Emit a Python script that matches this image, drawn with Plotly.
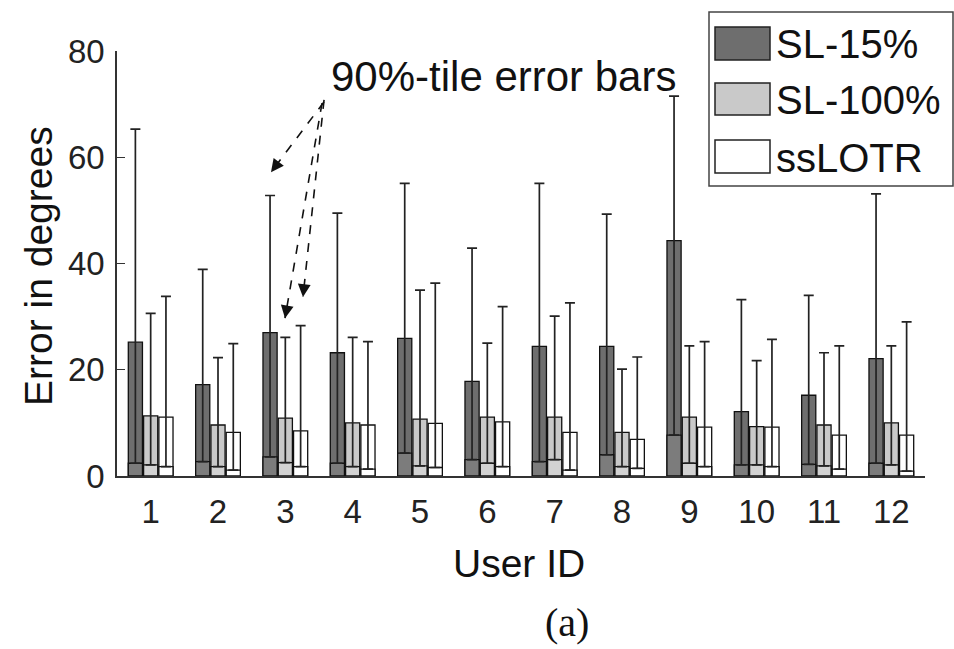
import plotly.graph_objects as go

users = list(range(1, 13))
tick_labels = [str(u) for u in users]
series_names = ["SL-15%", "SL-100%", "ssLOTR"]

sl15_mean = [25.2, 17.2, 27.0, 23.2, 25.9, 17.8, 24.4, 24.4, 44.3, 12.1, 15.2, 22.1]
sl15_low = [2.4, 2.7, 3.6, 2.4, 4.3, 3.1, 2.7, 4.0, 7.7, 2.1, 2.2, 2.4]
sl15_p90 = [65.3, 38.9, 52.8, 49.5, 55.1, 42.9, 55.1, 49.3, 71.5, 33.2, 34.0, 53.1]

sl100_mean = [11.3, 9.6, 10.9, 10.0, 10.7, 11.1, 11.1, 8.2, 11.1, 9.3, 9.6, 10.0]
sl100_low = [2.1, 1.75, 2.5, 1.75, 1.9, 2.4, 3.1, 1.75, 2.4, 2.1, 1.9, 2.1]
sl100_p90 = [30.6, 22.3, 26.1, 26.1, 35.0, 25.0, 30.1, 20.1, 24.5, 21.7, 23.2, 24.5]

ss_mean = [11.1, 8.2, 8.5, 9.6, 9.9, 10.2, 8.2, 6.9, 9.2, 9.2, 7.7, 7.7]
ss_low = [1.75, 1.1, 1.75, 1.3, 1.6, 1.75, 1.1, 1.45, 1.75, 1.75, 1.3, 0.9]
ss_p90 = [33.8, 24.9, 28.3, 25.3, 36.3, 31.9, 32.6, 22.4, 25.3, 25.7, 24.5, 29.0]

means = [sl15_mean, sl100_mean, ss_mean]
lows = [sl15_low, sl100_low, ss_low]
p90s = [sl15_p90, sl100_p90, ss_p90]

outer_colors = ["#6e6e6e", "#c9c9c9", "#ffffff"]
inner_colors = ["#7c7c7c", "#d2d2d2", "#ffffff"]
offsets = [-0.227, 0.0, 0.227]
bar_w = 0.21
FONT = "Liberation Sans, Arial, sans-serif"

fig = go.Figure()
for i in range(3):
    xs = [u + offsets[i] for u in users]
    fig.add_trace(go.Bar(x=xs, y=means[i], width=bar_w, name=series_names[i],
                         marker=dict(color=outer_colors[i], line=dict(color="#111", width=1.3)),
                         showlegend=False))
    fig.add_trace(go.Bar(x=xs, y=lows[i], width=bar_w, name=series_names[i] + " low",
                         marker=dict(color=inner_colors[i], line=dict(color="#111", width=1.3)),
                         showlegend=False))
for i in range(3):
    xs = [u + offsets[i] for u in users]
    fig.add_trace(go.Scatter(
        x=xs, y=lows[i], mode="markers", marker=dict(size=0.1, color="rgba(0,0,0,0)"),
        error_y=dict(type="data", symmetric=False,
                     array=[p - l for p, l in zip(p90s[i], lows[i])],
                     arrayminus=[0] * len(users), color="#222", thickness=1.7, width=5),
        showlegend=False, hoverinfo="skip"))

# plot area mapping helpers (paper coords)
L, R, T, B = 117, 925, 51, 476
def px(xp):
    return (xp - L) / (R - L)
def py(yp):
    return (B - yp) / (B - T)

shapes = []
annotations = []

# dashed arrows (data coordinates)
arrow_lines = [((3.574, 70.4), (2.787, 57.2), (8.5, -11.2)),
               ((3.545, 70.2), (2.995, 29.7), (2.4, -13.8)),
               ((3.575, 70.8), (3.262, 33.7), (1.4, -13.9))]
for (x0, y0), (x1, y1), (ax, ay) in arrow_lines:
    shapes.append(dict(type="line", xref="x", yref="y", x0=x0, y0=y0, x1=x1, y1=y1,
                       line=dict(color="#111", width=1.6, dash="dash")))
    annotations.append(dict(x=x1, y=y1, xref="x", yref="y", ax=ax, ay=ay, text="",
                            showarrow=True, arrowhead=2, arrowsize=1.6, arrowwidth=1.6,
                            arrowcolor="#111", standoff=0))

annotations.append(dict(text="90%-tile error bars", xref="paper", yref="paper",
                        x=px(503), y=py(76), showarrow=False,
                        font=dict(family=FONT, size=42, color="#111"),
                        xanchor="center", yanchor="middle"))

# custom legend
shapes.append(dict(type="rect", xref="paper", yref="paper", x0=px(709), x1=px(953),
                   y0=py(186), y1=py(12), fillcolor="white",
                   line=dict(color="#444", width=1.5), layer="above"))
sw_rows = [(27, 60), (83, 115), (140, 173)]
for i, (a, b) in enumerate(sw_rows):
    shapes.append(dict(type="rect", xref="paper", yref="paper", x0=px(715), x1=px(770),
                       y0=py(b), y1=py(a), fillcolor=outer_colors[i],
                       line=dict(color="#222", width=1.5), layer="above"))
    annotations.append(dict(text=series_names[i], xref="paper", yref="paper",
                            x=px(774), y=py((a + b) / 2 + 1), showarrow=False,
                            xanchor="left", yanchor="middle",
                            font=dict(family=FONT, size=40, color="#111")))

annotations.append(dict(text="User ID", xref="paper", yref="paper", x=px(519), y=py(563),
                        showarrow=False, xanchor="center", yanchor="middle",
                        font=dict(family=FONT, size=39, color="#111")))
annotations.append(dict(text="Error in degrees", xref="paper", yref="paper", x=px(38), y=py(266),
                        showarrow=False, xanchor="center", yanchor="middle", textangle=-90,
                        font=dict(family=FONT, size=39, color="#111")))
annotations.append(dict(text="(a)", xref="paper", yref="paper", x=px(567), y=py(622),
                        showarrow=False, xanchor="center", yanchor="middle",
                        font=dict(family="Liberation Serif, Times New Roman, serif", size=40, color="#111")))

fig.update_layout(
    width=954, height=649,
    margin=dict(l=L, r=954 - R, t=T, b=649 - B),
    barmode="overlay",
    plot_bgcolor="white", paper_bgcolor="white",
    shapes=shapes, annotations=annotations,
    showlegend=False,
)
fig.update_xaxes(range=[0.5, 12.5], tickmode="array", tickvals=users, ticktext=tick_labels,
                 showgrid=False, zeroline=False, showline=True, linecolor="#333", linewidth=1.6,
                 ticks="inside", ticklen=0, tickfont=dict(family=FONT, size=33, color="#222"),
                 ticklabelstandoff=6)
fig.update_yaxes(range=[0, 80], tickvals=[0, 20, 40, 60, 80],
                 showgrid=False, zeroline=False, showline=True, linecolor="#333", linewidth=1.6,
                 ticks="inside", ticklen=8, tickcolor="#333", tickwidth=1.3,
                 tickfont=dict(family=FONT, size=33, color="#222"), ticklabelstandoff=4)

fig.write_html("out.html")
